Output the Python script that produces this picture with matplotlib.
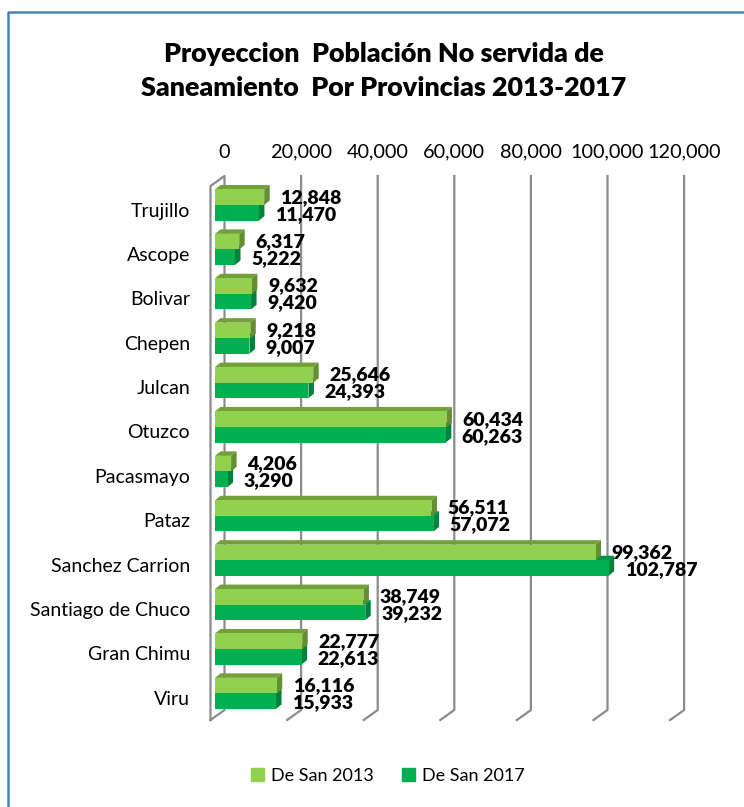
import matplotlib.pyplot as plt
from matplotlib.patches import Polygon, Patch
from matplotlib.lines import Line2D
import numpy as np

plt.rcParams['font.family'] = ['Lato', 'DejaVu Sans']

# datos
provincias = ['Trujillo', 'Ascope', 'Bolivar', 'Chepen', 'Julcan', 'Otuzco',
              'Pacasmayo', 'Pataz', 'Sanchez Carrion', 'Santiago de Chuco',
              'Gran Chimu', 'Viru']
san_2013 = [12848, 6317, 9632, 9218, 25646, 60434, 4206, 56511, 99362, 38749, 22777, 16116]
san_2017 = [11470, 5222, 9420, 9007, 24393, 60263, 3290, 57072, 102787, 39232, 22613, 15933]
ticks_x = [0, 20000, 40000, 60000, 80000, 100000, 120000]
series = ['De San 2013', 'De San 2017']

W, H = 744, 807
PX = 76.6 / 20000      # pixeles por unidad
LEFT, TOP, STEP = 215, 205, 44.4

fig = plt.figure(figsize=(W / 100, H / 100), dpi=100)
ax = fig.add_axes([LEFT / W, 1 - (TOP + 11.5 * STEP) / H, 120000 * PX / W, 12 * STEP / H])
ax.set_xlim(0, 120000)
ax.set_ylim(11.5, -0.5)
ax.axis('off')


def dx(p):
    return p / PX


def dy(p):
    return p / STEP


def py(p):
    return (p - TOP) / STEP


grid_c = '#8c8c8c'
# lineas de la grilla (pared del fondo + piso)
for v in ticks_x[1:]:
    ax.plot([v + dx(9.5), v + dx(9.5), v - dx(4.5)], [py(176), py(710), py(720)],
            color=grid_c, lw=1.6, clip_on=False, zorder=1)
# pared izquierda
ax.plot([-dx(4.5), -dx(4.5), dx(9.5), dx(9.5), -dx(4.5)],
        [py(720), py(186), py(176), py(710), py(720)],
        color=grid_c, lw=1.6, clip_on=False, zorder=1)

# etiquetas del eje x
for v in ticks_x:
    ax.text(v + dx(9.5), py(152), f'{v:,}', ha='center', va='center', fontsize=14.3)

# etiquetas de provincias
ypos = np.arange(len(provincias))
for i, p in enumerate(provincias):
    ax.text(-dx(25), i + dy(6), p, ha='right', va='center', fontsize=14)

h = 0.35
b13 = ax.barh(ypos - h / 2, san_2013, height=h, color='#92D050', zorder=5)
b17 = ax.barh(ypos + h / 2, san_2017, height=h, color='#00B050', zorder=3)

ddx, ddy = dx(5.5), dy(4.5)


def caras(bars, c_top, c_side, z):
    for b in bars:
        x0, w = b.get_x(), b.get_width()
        yt, yb = b.get_y(), b.get_y() + b.get_height()
        x1 = x0 + w
        top = [(x0, yt), (x1, yt), (x1 + ddx, yt - ddy), (x0 + ddx, yt - ddy)]
        side = [(x1, yt), (x1, yb), (x1 + ddx, yb - ddy), (x1 + ddx, yt - ddy)]
        ax.add_patch(Polygon(top, closed=True, color=c_top, zorder=z, lw=0))
        ax.add_patch(Polygon(side, closed=True, color=c_side, zorder=z, lw=0))


caras(b17, '#009443', '#00823A', 2)
caras(b13, '#74A03C', '#638F32', 4)

# etiquetas de valores
for i in range(len(provincias)):
    ax.text(san_2013[i] + dx(16), i - h / 2, f'{san_2013[i]:,}', fontsize=14,
            fontweight='heavy', va='center', ha='left', zorder=10)
    ax.text(san_2017[i] + dx(16), i + h / 2 + 0.03, f'{san_2017[i]:,}', fontsize=14,
            fontweight='heavy', va='center', ha='left', zorder=10)

# titulo
fig.text(384 / W, 1 - 71 / H, 'Proyeccion  Población No servida de\nSaneamiento  Por Provincias 2013-2017',
         ha='center', va='center', fontsize=19.4, fontweight='heavy', linespacing=1.5)

# leyenda
handles = [Patch(color='#92D050'), Patch(color='#00B050')]
fig.legend(handles, series, loc='center', bbox_to_anchor=(388 / W, 1 - 776 / H), ncol=2,
           frameon=False, fontsize=13, handlelength=0.7, handleheight=0.7,
           handletextpad=0.4, columnspacing=1.6)

# borde del grafico
fig.add_artist(Line2D([8 / W, 8 / W, 1], [0, 1 - 12 / H, 1 - 12 / H],
                      color='#4F81BD', lw=1.8))

fig.savefig('out.png', dpi=100)
